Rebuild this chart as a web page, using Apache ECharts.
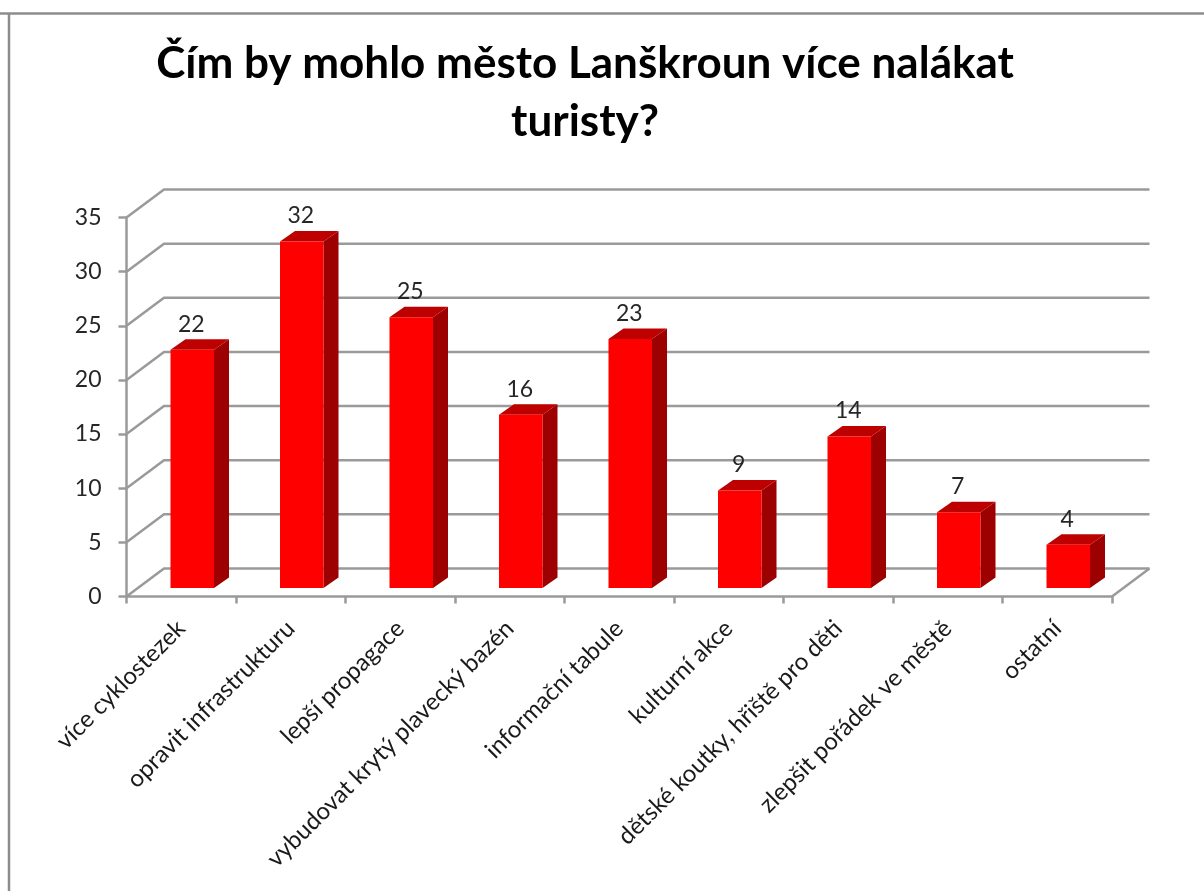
<!DOCTYPE html>
<html>
<head>
<meta charset="utf-8">
<title>Lanškroun</title>
<script src="https://cdn.jsdelivr.net/npm/echarts@6/dist/echarts.min.js"></script>
<style>
  html, body { margin: 0; padding: 0; background: #fff; }
  #chart { width: 1204px; height: 891px; }
</style>
</head>
<body>
<div id="chart"></div>
<script>
  var titleText = 'Čím by mohlo město Lanškroun více nalákat\nturisty?';
  var categories = ['více cyklostezek', 'opravit infrastrukturu', 'lepší propagace', 'vybudovat krytý plavecký bazén', 'informační tabule', 'kulturní akce', 'dětské koutky, hřiště pro děti', 'zlepšit pořádek ve městě', 'ostatní'];
  var values = [22, 32, 25, 16, 23, 9, 14, 7, 4];
  var gridTicks = [0, 5, 10, 15, 20, 25, 30, 35];

  var FONT = 'Lato';
  var LINE = '#9a9a9a';
  // fake 3D: wall depth and bar depth in px
  var WALL_DX = 37.5, WALL_DY = -28;
  var BAR_W = 43.5, BAR_DX = 15, BAR_DY = -10.5;
  var BAR_SHIFT_X = 11, BAR_SHIFT_Y = -8.5;

  function renderWall(params, api) {
    var cs = params.coordSys;
    var p = api.coord([0, api.value(0)]);
    var y = p[1];
    var children = [{
      type: 'polyline',
      shape: { points: [[cs.x, y], [cs.x + WALL_DX, y + WALL_DY], [cs.x + cs.width + WALL_DX, y + WALL_DY]] },
      style: { fill: 'none', stroke: LINE, lineWidth: 2.5 }
    }];
    // right edge of the floor
    if (api.value(0) === 0) {
      children.push({
        type: 'line',
        shape: { x1: cs.x + cs.width, y1: y, x2: cs.x + cs.width + WALL_DX, y2: y + WALL_DY },
        style: { stroke: LINE, lineWidth: 2.5 }
      });
    }
    return { type: 'group', children: children };
  }

  function renderBar(params, api) {
    var idx = api.value(0);
    var val = api.value(1);
    var top = api.coord([idx, val]);
    var base = api.coord([idx, 0]);
    var x1 = top[0] + BAR_SHIFT_X - BAR_W / 2;
    var x2 = x1 + BAR_W;
    var yt = top[1] + BAR_SHIFT_Y;
    var yb = base[1] + BAR_SHIFT_Y;
    return {
      type: 'group',
      children: [
        {
          type: 'polygon',
          shape: { points: [[x2, yt], [x2 + BAR_DX, yt + BAR_DY], [x2 + BAR_DX, yb + BAR_DY], [x2, yb]] },
          style: { fill: '#9c0000' }
        },
        {
          type: 'polygon',
          shape: { points: [[x1, yt], [x1 + BAR_DX, yt + BAR_DY], [x2 + BAR_DX, yt + BAR_DY], [x2, yt]] },
          style: { fill: '#bd0000' }
        },
        {
          type: 'rect',
          shape: { x: x1, y: yt, width: BAR_W, height: yb - yt },
          style: { fill: '#ff0000' }
        },
        {
          type: 'text',
          style: {
            text: String(val),
            x: x1 + BAR_W / 2 - 1,
            y: yt + BAR_DY - 15,
            align: 'center',
            verticalAlign: 'middle',
            fill: '#262626',
            font: '23px ' + FONT
          }
        }
      ]
    };
  }

  var chart = echarts.init(document.getElementById('chart'), null, { renderer: 'canvas' });
  chart.setOption({
    animation: false,
    backgroundColor: '#fff',
    textStyle: { fontFamily: FONT },
    title: {
      text: titleText,
      left: 580,
      top: 30,
      textAlign: 'center',
      textStyle: { fontFamily: FONT, fontSize: 44, fontWeight: 'bold', color: '#000', lineHeight: 58 }
    },
    graphic: [
      { type: 'line', shape: { x1: 0, y1: 13.5, x2: 1204, y2: 13.5 }, style: { stroke: '#8c8c8c', lineWidth: 2.5 } },
      { type: 'line', shape: { x1: 9, y1: 13, x2: 9, y2: 891 }, style: { stroke: '#8c8c8c', lineWidth: 2.5 } }
    ],
    grid: { left: 126.5, top: 217.5, width: 985.5, height: 379, containLabel: false },
    xAxis: {
      type: 'category',
      data: categories,
      axisLine: { lineStyle: { color: LINE, width: 2.5 } },
      axisTick: { show: true, length: 7, lineStyle: { color: LINE, width: 2.5 } },
      axisLabel: { interval: 0, rotate: 45, margin: 28, fontSize: 24, fontFamily: FONT, color: '#1a1a1a' },
      splitLine: { show: false }
    },
    yAxis: {
      type: 'value',
      min: 0,
      max: 35,
      interval: 5,
      axisLine: { show: true, lineStyle: { color: LINE, width: 2.5 } },
      axisTick: { show: true, length: 8, lineStyle: { color: LINE, width: 2.5 } },
      axisLabel: { margin: 25, fontSize: 23, fontFamily: FONT, color: '#262626', padding: [3, 0, 0, 0] },
      splitLine: { show: false }
    },
    series: [
      {
        name: 'mřížka',
        type: 'custom',
        renderItem: renderWall,
        encode: { y: 0 },
        data: gridTicks.map(function (t) { return [t]; }),
        silent: true,
        z: 1
      },
      {
        name: 'počet',
        type: 'custom',
        renderItem: renderBar,
        encode: { x: 0, y: 1 },
        data: values.map(function (v, i) { return [i, v]; }),
        z: 3
      }
    ]
  });
</script>
</body>
</html>
